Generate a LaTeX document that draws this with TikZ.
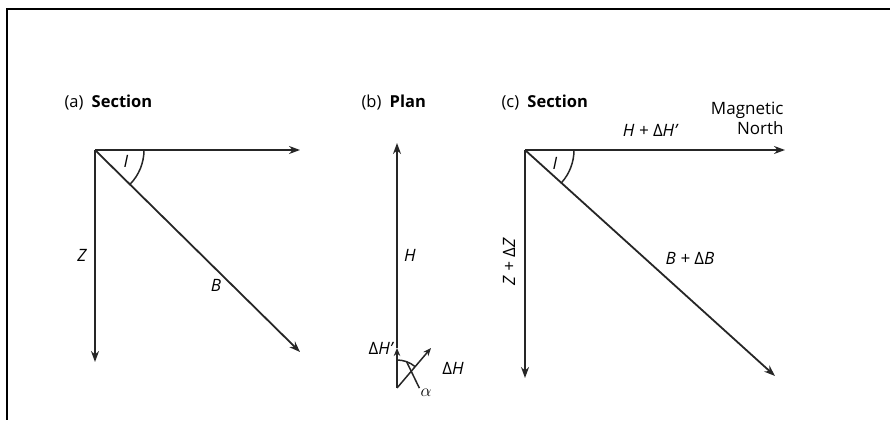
\documentclass[tikz,border=0pt]{standalone}
\usepackage{fontspec}
\setmainfont{Open Sans}
\usetikzlibrary{arrows.meta, positioning, calc}

\begin{document}
\begin{tikzpicture}[
  x=1pt, y=-1pt,
  vec/.style={-{Stealth[length=11pt,width=8pt]}, line width=1.8pt, black!85},
  smallvec/.style={-{Stealth[length=8pt,width=6.5pt]}, line width=1.5pt, black!85},
  ang/.style={line width=1.5pt, black!85},
  title/.style={anchor=west, font=\fontsize{16.5}{19}\selectfont},
  lbl/.style={font=\fontsize{17}{20}\selectfont\itshape, inner sep=1pt}
]
  \useasboundingbox (0,0) rectangle (890,420);
  \draw[line width=1.3pt] (890,9) -- (7,9) -- (7,420);

  % (a) Section
  \coordinate (Oa) at (95,150);
  \coordinate (Ha) at (300,150);
  \coordinate (Za) at (95,362);
  \coordinate (Ba) at (300,352);
  \node[title] (ta) at (61,103) {(a)\enspace\textbf{Section}};
  \foreach \e in {Ha, Za, Ba}
    \draw[vec] (Oa) -- (\e);
  \draw[ang] ($(Oa)+(49,0)$) arc[start angle=0, end angle=44.5, radius=49];
  \node[lbl] (Ia) at (126,161) {I};
  \node[lbl] (Zla) at (82,255) {Z};
  \node[lbl] (Bla) at (216,285) {B};

  % (b) Plan
  \coordinate (Pb) at (397,388);
  \coordinate (Qb) at (397,348);
  \coordinate (Nb) at (397,143);
  \coordinate (Db) at (431,348);
  \node[title] (tb) at (358,103) {(b)\enspace\textbf{Plan}};
  \draw[vec] (Qb) -- (Nb);
  \foreach \e in {Qb, Db}
    \draw[smallvec] (Pb) -- (\e);
  \draw[ang] ($(Pb)+(-90:28)$) arc[start angle=-90, end angle=-50, radius=28];
  \coordinate (Ab) at ($(Pb)+(-70:28)$);
  \node[font=\fontsize{16.5}{19}\selectfont, inner sep=1pt] (alpha) at (426,393) {$\alpha$};
  \draw[ang] (Ab) -- (alpha.north west);
  \node[lbl] (Hb) at (410,255) {H};
  \node[lbl, left=3pt of Qb] (dHp) {{\upshape Δ}H'};
  \node[lbl] (dH) at (453,368) {{\upshape Δ}H};

  % (c) Section
  \coordinate (Oc) at (525,150);
  \coordinate (Hc) at (785,150);
  \coordinate (Zc) at (525,378);
  \coordinate (Bc) at (775,376);
  \node[title] (tc) at (498,103) {(c)\enspace\textbf{Section}};
  \foreach \e in {Hc, Zc, Bc}
    \draw[vec] (Oc) -- (\e);
  \draw[ang] ($(Oc)+(49,0)$) arc[start angle=0, end angle=42, radius=49];
  \node[lbl] (Ic) at (555,163) {I};
  \node[lbl] (Hlc) at (650,130) {H + {\upshape Δ}H'};
  \node[font=\fontsize{17}{20}\selectfont, align=right, anchor=east] (north) at (787,118) {Magnetic\\North};
  \node[lbl, rotate=90] (Zlc) at (509,262) {Z + {\upshape Δ}Z};
  \node[lbl] (Blc) at (690,258) {B + {\upshape Δ}B};
\end{tikzpicture}
\end{document}
